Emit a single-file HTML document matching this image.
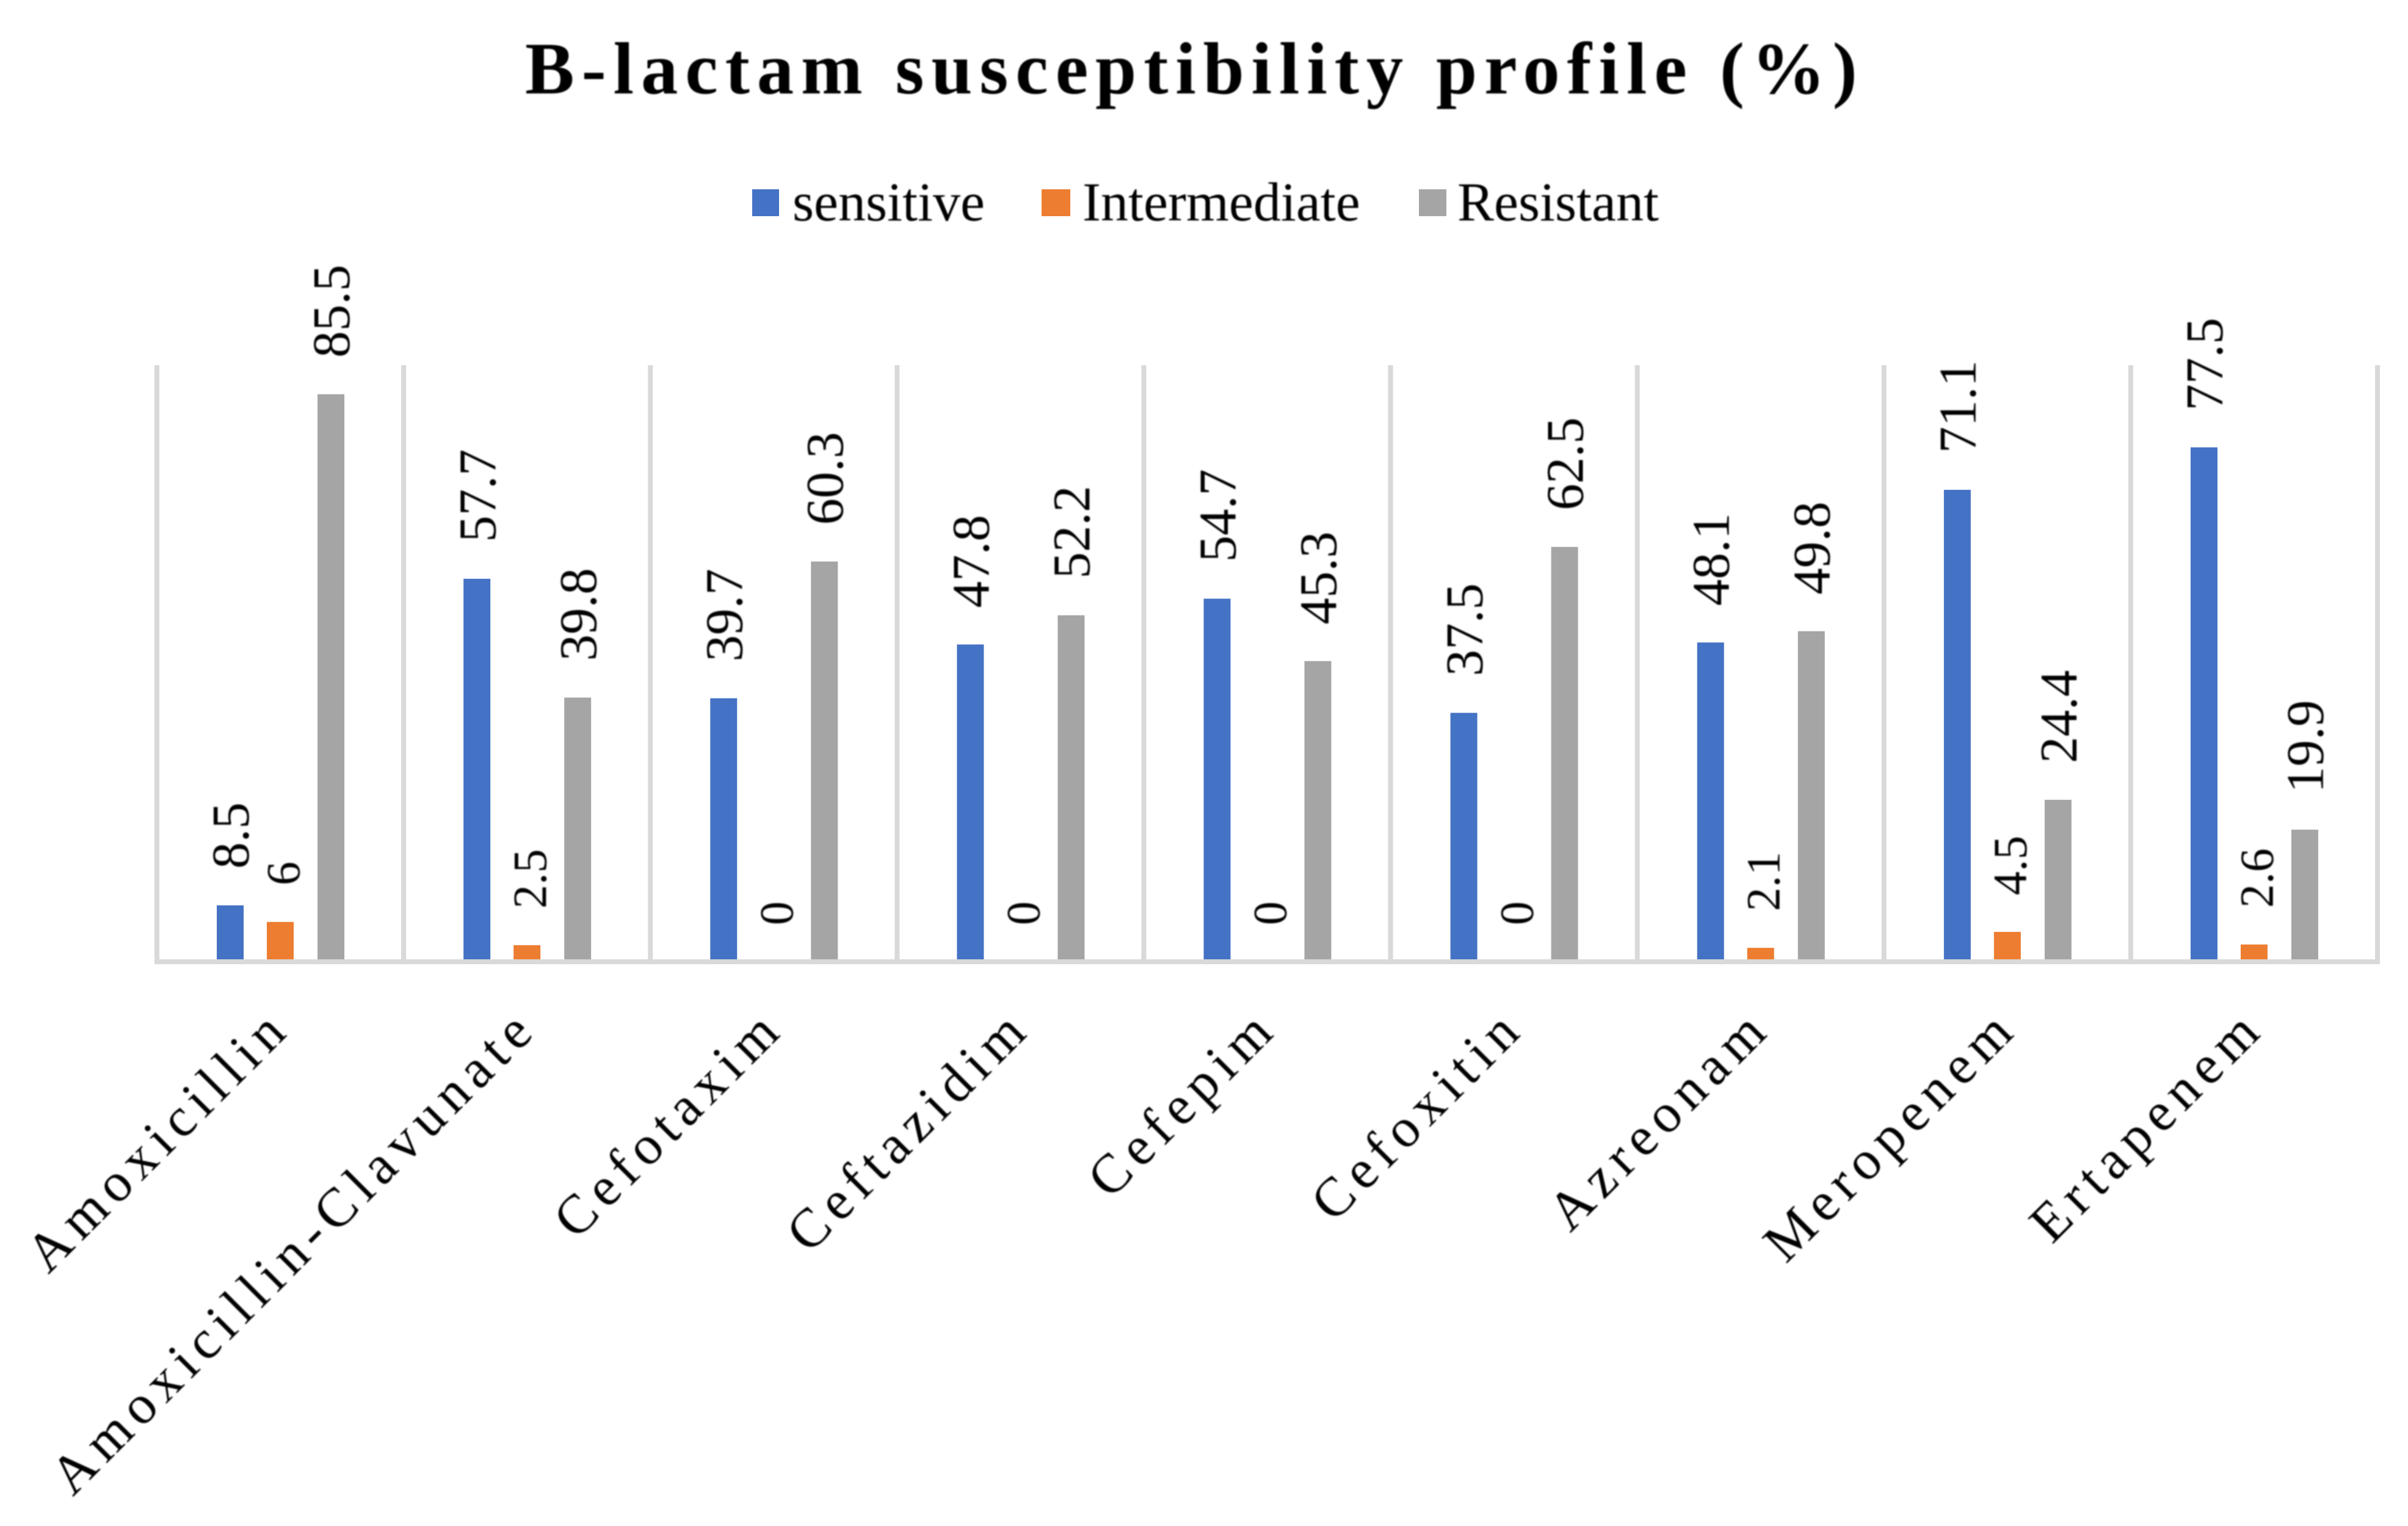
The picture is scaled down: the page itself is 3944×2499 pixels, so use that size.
<!DOCTYPE html>
<html lang="en">
<head>
<meta charset="utf-8">
<title>B-lactam susceptibility profile (%)</title>
<style>
html,body{margin:0;padding:0;background:#fff;}
svg{display:block;}
text{font-family:"Liberation Serif",serif;fill:#000;filter:blur(1px);}
</style>
</head>
<body>
<svg id="chart" xmlns="http://www.w3.org/2000/svg" width="3944" height="2499" viewBox="0 0 3944 2499">
  <rect x="0" y="0" width="3944" height="2499" fill="#ffffff"/>
  <text x="860" y="153" font-size="121" font-weight="700" style="letter-spacing:11.75px">B-lactam susceptibility profile (%)</text>
  <g>
    <rect x="1232" y="310" width="44" height="44" fill="#4472C4"/>
    <text x="1298" y="361" font-size="90">sensitive</text>
    <rect x="1706" y="310" width="47" height="44" fill="#ED7D31"/>
    <text x="1773" y="361" font-size="90">Intermediate</text>
    <rect x="2324" y="310" width="45" height="44" fill="#A5A5A5"/>
    <text x="2387" y="361" font-size="90">Resistant</text>
  </g>
  <g id="plot"></g>
</svg>
<script>
const categories = ["Amoxicillin","Amoxicillin-Clavunate","Cefotaxim","Ceftazidim","Cefepim","Cefoxitin","Azreonam","Meropenem","Ertapenem"];
const sensitive = [8.5,57.7,39.7,47.8,54.7,37.5,48.1,71.1,77.5];
const intermediate = [6,2.5,0,0,0,0,2.1,4.5,2.6];
const resistant = [85.5,39.8,60.3,52.2,45.3,62.5,49.8,24.4,19.9];

const NS = "http://www.w3.org/2000/svg";
const plot = document.getElementById("plot");
const plotLeft = 257, plotRight = 3894, plotTop = 598, plotBottom = 1575;
const pxPerUnit = 10.87;
const barWidth = 44;
const step = (plotRight - plotLeft) / categories.length;
const seriesList = [
  {key: "sensitive", values: sensitive, color: "#4472C4", offset: -82, labelSize: 87, labelShift: 30},
  {key: "intermediate", values: intermediate, color: "#ED7D31", offset: 0, labelSize: 78, labelShift: 31},
  {key: "resistant", values: resistant, color: "#A5A5A5", offset: 83, labelSize: 87, labelShift: 30}
];
function xScale(i){ return plotLeft + step * (i + 0.5); }
function yScale(v){ return plotBottom - v * pxPerUnit; }
function make(tag, attrs){
  const el = document.createElementNS(NS, tag);
  for (const k in attrs) el.setAttribute(k, attrs[k]);
  return el;
}

// vertical category separators
for (let i = 0; i <= categories.length; i++) {
  const x = plotLeft + step * i;
  const line = make("line", {x1: x, x2: x, y1: plotTop, y2: plotBottom + 4, stroke: "#D9D9D9", "stroke-width": 8});
  
  
  plot.appendChild(line);
}

// bars and data labels
seriesList.forEach(function(s){
  s.values.forEach(function(v, i){
    const cx = xScale(i) + s.offset;
    const top = yScale(v);
    const bar = make("rect", {x: cx - barWidth / 2, y: top, width: barWidth, height: plotBottom - top, fill: s.color});
    
    
    plot.appendChild(bar);

    const lx = cx + s.labelShift, ly = top - 60;
    const label = make("text", {x: lx, y: ly, "font-size": s.labelSize, transform: "rotate(-90 " + lx + " " + ly + ")"});
    label.textContent = String(v);
    
    
    plot.appendChild(label);
  });
});

// x axis line
const axis = make("line", {x1: plotLeft - 4, x2: plotRight + 4, y1: plotBottom, y2: plotBottom, stroke: "#D9D9D9", "stroke-width": 8});


plot.appendChild(axis);

// category labels
categories.forEach(function(name, i){
  const ax = xScale(i) + 21, ay = 1687;
  const t = make("text", {x: ax, y: ay, "font-size": 90, "text-anchor": "end", transform: "rotate(-45 " + ax + " " + ay + ")", style: "letter-spacing:12px"});
  t.textContent = name;
  
  
  plot.appendChild(t);
});
</script>
</body>
</html>
